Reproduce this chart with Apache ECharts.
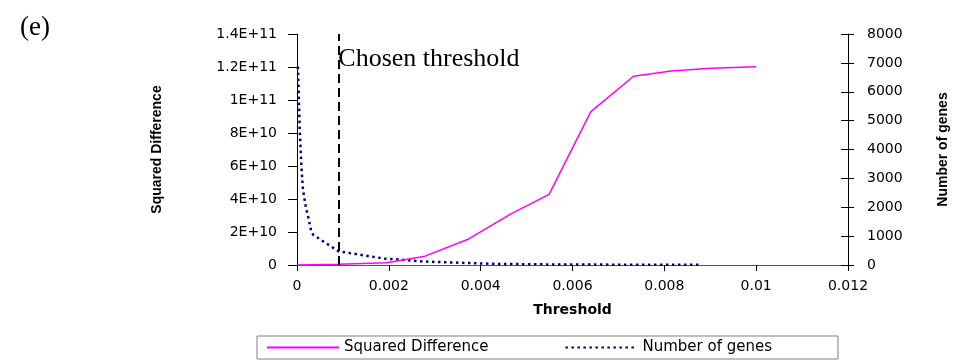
<!DOCTYPE html>
<html>
<head>
<meta charset="utf-8">
<script src="https://cdn.jsdelivr.net/npm/echarts@6/dist/echarts.min.js"></script>
<style>html,body{margin:0;padding:0;background:#fff;}#chart{width:961px;height:361px;}</style>
</head>
<body>
<div id="chart"></div>
<script>
// ---- data ----
var sqThreshold = [0, 0.0009, 0.00195, 0.00276, 0.00374, 0.00466, 0.00549, 0.0064, 0.00733, 0.00815, 0.00902, 0.01];
var sqValues = [0, 0.5e9, 1.3e9, 5.1e9, 15.8e9, 31e9, 42.8e9, 93e9, 114.4e9, 117.6e9, 119.2e9, 120.2e9];
var geneThreshold = [0.00002, 0.00006, 0.0001, 0.00013, 0.00019, 0.00024, 0.00031, 0.00035, 0.0009, 0.00165, 0.0019, 0.00224, 0.00275, 0.0034, 0.0043, 0.0055, 0.0064, 0.0073, 0.0088];
var geneValues = [6870, 4680, 3300, 2610, 2030, 1690, 1170, 1050, 477, 283, 225, 190, 120, 86, 40, 20, 15, 10, 5];
var leftTickLabels = ['0', '2E+10', '4E+10', '6E+10', '8E+10', '1E+11', '1.2E+11', '1.4E+11'];
var rightTickLabels = ['0', '1000', '2000', '3000', '4000', '5000', '6000', '7000', '8000'];
var chosenThreshold = 0.0009;
var chosenLabel = 'Chosen threshold';
var panelLabel = '(e)';
var seriesNames = ['Squared Difference', 'Number of genes'];

function zip(a, b) { return a.map(function (v, i) { return [v, b[i]]; }); }

var tickFont = { fontFamily: 'DejaVu Sans', fontSize: 14, color: '#000' };
var nameFont = { fontFamily: 'Liberation Sans', fontSize: 14, fontWeight: 'bold', color: '#000' };
var chart = echarts.init(document.getElementById('chart'), null, { renderer: 'canvas' });
chart.setOption({
  animation: false,
  backgroundColor: '#fff',
  title: {
    text: panelLabel, left: 15, top: 9,
    textStyle: { fontFamily: 'Liberation Serif', fontSize: 27, fontWeight: 'normal', color: '#000' }
  },
  legend: {
    left: 257, top: 336,
    padding: [4, 66, 4, 9],
    borderColor: '#808080', borderWidth: 1,
    itemWidth: 72, itemHeight: 14, itemGap: 76,
    itemStyle: { opacity: 0 },
    textStyle: { fontFamily: 'DejaVu Sans', fontSize: 15, color: '#000' },
    data: [seriesNames[0], seriesNames[1]]
  },
  grid: { left: 297, right: 113, top: 34, bottom: 96, containLabel: false },
  xAxis: {
    type: 'value', min: 0, max: 0.012, interval: 0.002,
    name: 'Threshold', nameLocation: 'middle', nameGap: 38,
    nameTextStyle: { fontFamily: 'DejaVu Sans', fontSize: 14, fontWeight: 'bold', color: '#000' },
    axisLine: { show: true, lineStyle: { color: '#555', width: 1 } },
    axisTick: { show: true, length: 6, lineStyle: { color: '#000' } },
    axisLabel: Object.assign({ margin: 14 }, tickFont),
    splitLine: { show: false }
  },
  yAxis: [
    {
      type: 'value', min: 0, max: 1.4e11, interval: 2e10, position: 'left',
      name: 'Squared Difference', nameLocation: 'middle', nameGap: 133, nameRotate: 90,
      nameTextStyle: nameFont,
      axisLine: { show: true, lineStyle: { color: '#000', width: 1 } },
      axisTick: { show: true, length: 9, lineStyle: { color: '#000' } },
      axisLabel: Object.assign({ margin: 20, formatter: function (v) { return leftTickLabels[Math.round(v / 2e10)]; } }, tickFont),
      splitLine: { show: false }
    },
    {
      type: 'value', min: 0, max: 8000, interval: 1000, position: 'right',
      name: 'Number of genes', nameLocation: 'middle', nameGap: 88, nameRotate: 90,
      nameTextStyle: nameFont,
      axisLine: { show: true, lineStyle: { color: '#000', width: 1 } },
      axisTick: { show: true, length: 6, lineStyle: { color: '#000' } },
      axisLabel: Object.assign({ margin: 19, formatter: function (v) { return rightTickLabels[Math.round(v / 1000)]; } }, tickFont),
      splitLine: { show: false }
    },
    {
      type: 'value', min: 0, max: 8000, interval: 1000, position: 'right',
      axisLine: { show: false },
      axisTick: { show: true, inside: true, length: 7, lineStyle: { color: '#000' } },
      axisLabel: { show: false },
      splitLine: { show: false }
    }
  ],
  series: [
    {
      name: seriesNames[0], type: 'line', yAxisIndex: 0,
      data: zip(sqThreshold, sqValues),
      symbol: 'none', color: '#FF00FF',
      lineStyle: { color: '#FF00FF', width: 1.5 },
      z: 3,
      markLine: {
        silent: true, symbol: 'none', animation: false,
        lineStyle: { color: '#000', type: [9, 5], width: 2 },
        label: { show: false },
        data: [[{ coord: [chosenThreshold, 0] }, { coord: [chosenThreshold, 1.4e11] }]]
      },
      markPoint: {
        silent: true, symbol: 'circle', symbolSize: 0, animation: false,
        label: {
          show: true, position: 'right', distance: 0,
          fontFamily: 'Liberation Serif', fontSize: 26, color: '#000',
          formatter: function () { return chosenLabel; }
        },
        data: [{ coord: [chosenThreshold, 1.248e11] }]
      }
    },
    {
      name: seriesNames[1], type: 'line', yAxisIndex: 1,
      data: zip(geneThreshold, geneValues),
      symbol: 'none', color: '#000080',
      lineStyle: { color: '#000080', width: 2.5, type: [2.5, 3.5] },
      z: 2
    }
  ]
});
</script>
</body>
</html>
